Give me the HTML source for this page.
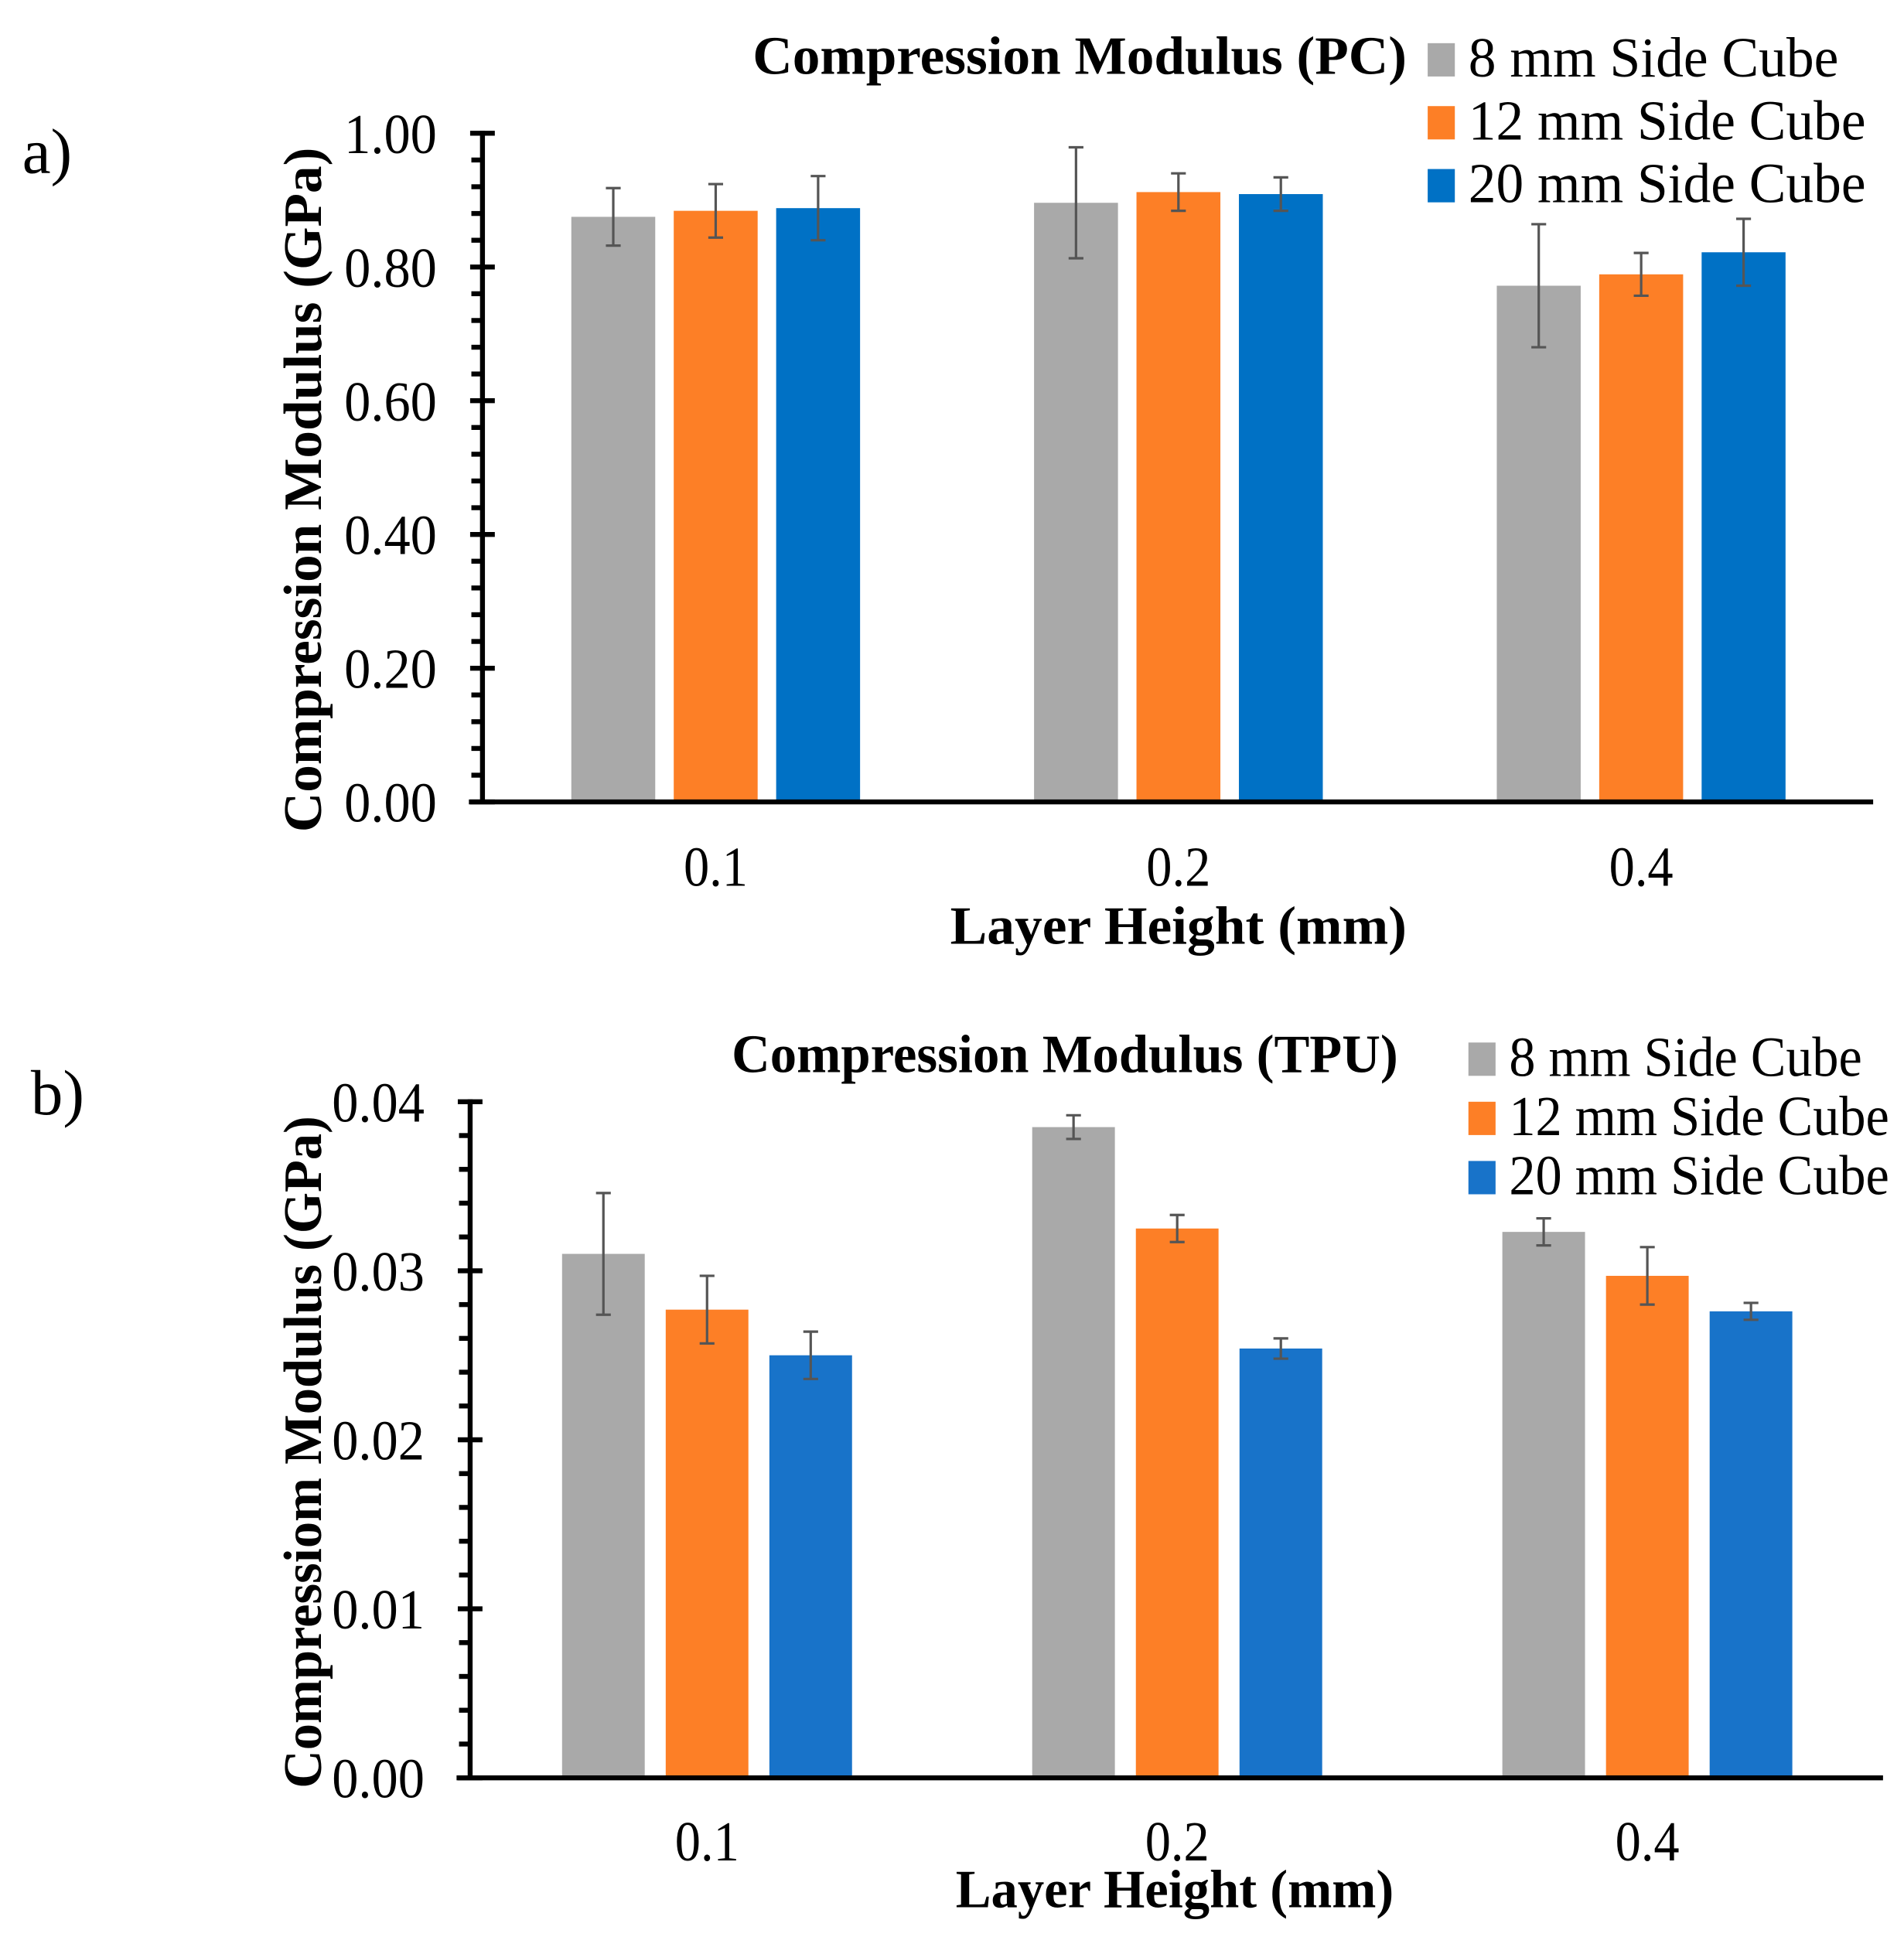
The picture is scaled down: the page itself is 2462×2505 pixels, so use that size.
<!DOCTYPE html>
<html><head><meta charset="utf-8"><style>
html,body{margin:0;padding:0;background:#fff;}
svg{display:block;}
text{font-family:"Liberation Serif",serif;fill:#000;}
</style></head><body>
<svg id="fig" width="2462" height="2505" viewBox="0 0 1543 1570" preserveAspectRatio="none" xmlns="http://www.w3.org/2000/svg">
<g id="ga"></g>
<g id="gb"></g>
</svg>
<script>
const categories = ["0.1","0.2","0.4"];
const seriesNames = ["8 mm Side Cube","12 mm Side Cube","20 mm Side Cube"];
const pcValues8 = [0.875,0.896,0.772];
const pcValues12 = [0.884,0.912,0.789];
const pcValues20 = [0.888,0.909,0.822];
const pcErr8 = [0.043,0.083,0.092];
const pcErr12 = [0.040,0.028,0.032];
const pcErr20 = [0.048,0.025,0.050];
const pcTicks = ["0.00","0.20","0.40","0.60","0.80","1.00"];
const tpuValues8 = [0.0310,0.0385,0.0323];
const tpuValues12 = [0.0277,0.0325,0.0297];
const tpuValues20 = [0.0250,0.0254,0.0276];
const tpuErr8 = [0.0036,0.0007,0.0008];
const tpuErr12 = [0.0020,0.0008,0.0017];
const tpuErr20 = [0.0014,0.0006,0.0005];
const tpuTicks = ["0.00","0.01","0.02","0.03","0.04"];

const NS="http://www.w3.org/2000/svg";
function mk(parent,tag,attrs,txt){const e=document.createElementNS(NS,tag);for(const k in attrs)e.setAttribute(k,attrs[k]);if(txt!==undefined)e.textContent=txt;parent.appendChild(e);return e;}
function fit(e,w){e.setAttribute('textLength',w);e.setAttribute('lengthAdjust','spacingAndGlyphs');}

function drawChart(g,cfg){
  const y=v=>cfg.y0-(v/cfg.max)*(cfg.y0-cfg.y1);
  const x=i=>cfg.cx0+i*cfg.step;
  const vals=cfg.vals, errs=cfg.errs;
  for(let s=0;s<3;s++){
    for(let i=0;i<categories.length;i++){
      const cx=x(i)+(s-1)*cfg.off;
      const r=mk(g,'rect',{x:cx-cfg.bw/2,y:y(vals[s][i]),width:cfg.bw,height:cfg.y0-y(vals[s][i]),fill:cfg.colors[s]});
      
      
      const top=y(vals[s][i]+errs[s][i]),bot=y(vals[s][i]-errs[s][i]);
      const e=mk(g,'path',{d:`M${cx} ${top}V${bot}M${cx-6} ${top}H${cx+6}M${cx-6} ${bot}H${cx+6}`,stroke:'#555',"stroke-width":2,fill:'none'});
      
      
    }
  }
  const ax=mk(g,'path',{d:`M${cfg.ax} ${cfg.y1-2}V${cfg.y0}M${cfg.xa0} ${cfg.y0}H${cfg.xa1}`,stroke:'#000',"stroke-width":4,fill:'none'});
  
  
  const nMaj=cfg.ticks.length-1;
  for(let k=0;k<=nMaj;k++){
    const v=cfg.max*k/nMaj, yy=y(v);
    mk(g,'line',{x1:cfg.ax-10,x2:cfg.ax+10,y1:yy,y2:yy,stroke:'#000',"stroke-width":4});
    const t=mk(g,'text',{x:cfg.ax-37,y:yy+16,"text-anchor":"end","font-size":46},cfg.ticks[k]);
    fit(t,75);
    
    
    if(k<nMaj){for(let m=1;m<cfg.minor;m++){const ym=y(v+cfg.max/nMaj*m/cfg.minor);mk(g,'line',{x1:cfg.ax-9,x2:cfg.ax,y1:ym,y2:ym,stroke:'#000',"stroke-width":4});}}
  }
  for(let i=0;i<categories.length;i++){
    const t=mk(g,'text',{x:x(i),y:cfg.xl,"text-anchor":"middle","font-size":46},categories[i]);
    fit(t,52);
    
    
  }
  let t=mk(g,'text',{x:cfg.xtx,y:cfg.xt,"text-anchor":"middle","font-size":44,"font-weight":"bold"},'Layer Height (mm)');
  fit(t,cfg.xtw);
  
  
  t=mk(g,'text',{x:0,y:0,"text-anchor":"middle","font-size":44,"font-weight":"bold",transform:`translate(${cfg.ytx},${cfg.yty}) rotate(-90)`},cfg.ytitle);
  fit(t,cfg.ytw);
  
  
  t=mk(g,'text',{x:cfg.tx,y:cfg.ty,"text-anchor":"middle","font-size":44,"font-weight":"bold"},cfg.title);
  fit(t,cfg.tw);
  
  
  t=mk(g,'text',{x:cfg.px,y:cfg.py,"font-size":52},cfg.panel);
  
  
  for(let s=0;s<3;s++){
    const ly=cfg.ly+s*cfg.lstep;
    const r=mk(g,'rect',{x:cfg.lx,y:ly-27,width:22,height:27,fill:cfg.colors[s]});
    
    
    const lt=mk(g,'text',{x:cfg.lx+33,y:ly,"font-size":46},seriesNames[s]);
    fit(lt,s===0?cfg.lw0:cfg.lw1);
    
    
  }
}
drawChart(document.getElementById('ga'),{
  vals:[pcValues8,pcValues12,pcValues20],errs:[pcErr8,pcErr12,pcErr20],ticks:pcTicks,max:1,minor:5,
  y0:650,y1:108,ax:391,xa0:380,xa1:1518,cx0:580,step:375,off:83,bw:68,xl:718,xt:765,xtx:955,xtw:370,
  colors:['#a9a9a9','#fd7f26','#0071c5'],ytitle:'Compression Modulus (GPa)',ytx:260,yty:397,ytw:555,
  title:'Compression Modulus (PC)',tx:875,ty:60,tw:530,panel:'a)',px:18,py:140,lx:1157,ly:62,lstep:51,lw0:300,lw1:322
});
drawChart(document.getElementById('gb'),{
  vals:[tpuValues8,tpuValues12,tpuValues20],errs:[tpuErr8,tpuErr12,tpuErr20],ticks:tpuTicks,max:0.04,minor:5,
  y0:1441,y1:893,ax:381,xa0:370,xa1:1526,cx0:573,step:381,off:84,bw:67,xl:1508,xt:1546,xtx:952,xtw:355,
  colors:['#a9a9a9','#fd7f26','#1873c9'],ytitle:'Compressiom Modulus (GPa)',ytx:260,yty:1177,ytw:545,
  title:'Compression Modulus (TPU)',tx:863,ty:869,tw:540,panel:'b)',px:25,py:903,lx:1190,ly:872,lstep:48,lw0:286,lw1:308
});
</script>
</body></html>
